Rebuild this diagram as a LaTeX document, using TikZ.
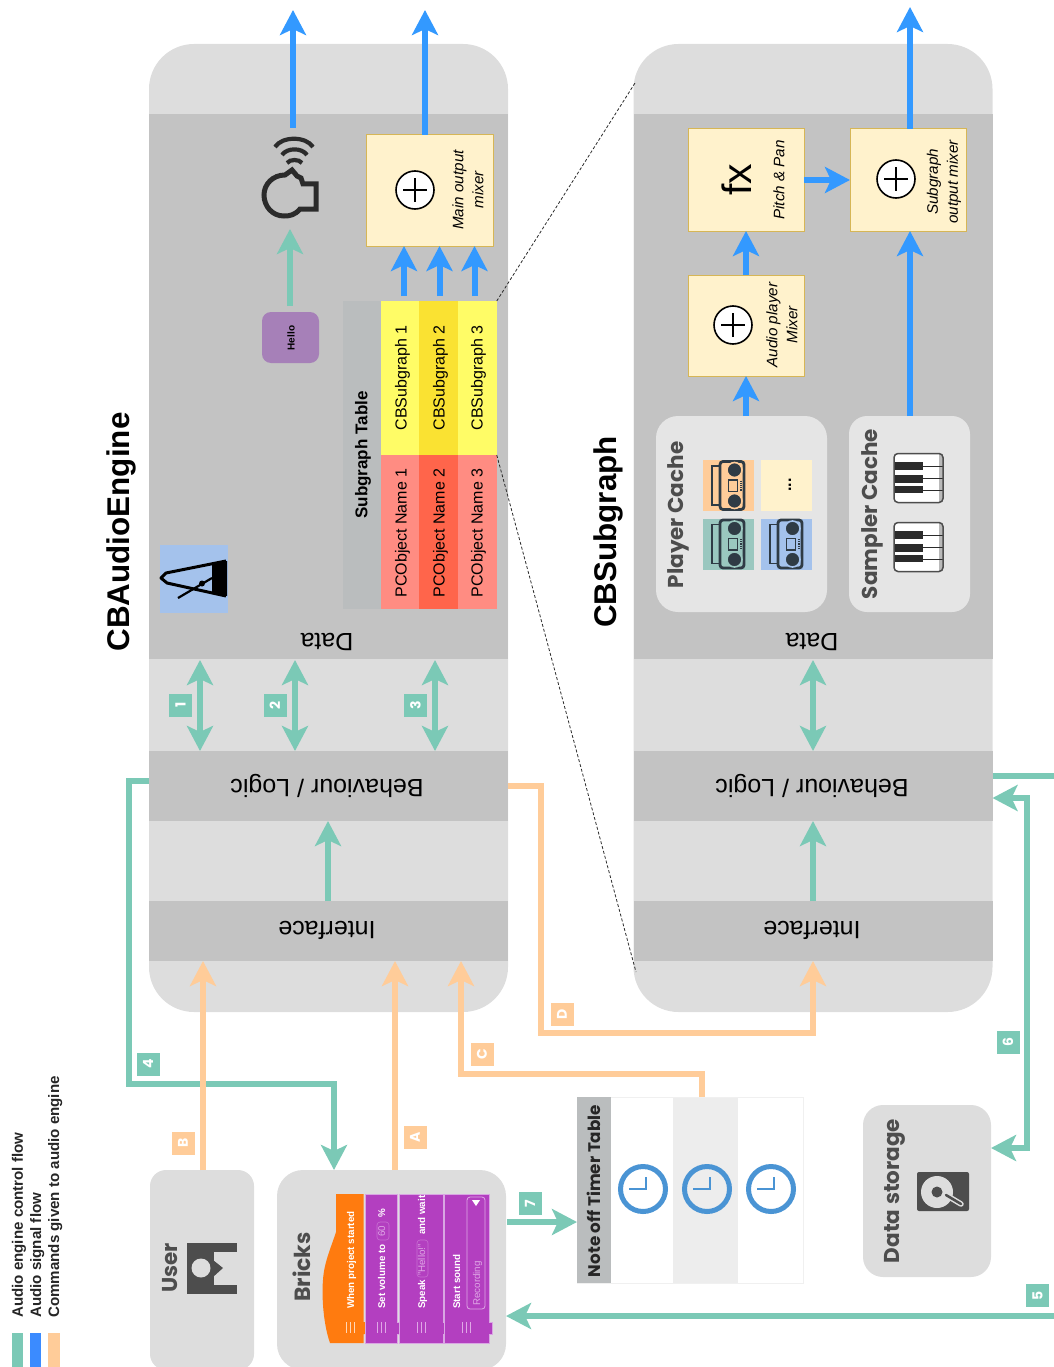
\documentclass[tikz,border=0pt]{standalone}
\usepackage{fontspec}
\setmainfont{Liberation Sans}
\newfontfamily\headfont{Poppins}
\usetikzlibrary{arrows.meta}
\definecolor{flowteal}{HTML}{7BC9B6}
\definecolor{flowblue}{HTML}{3399FF}
\definecolor{legendblue}{HTML}{3B8BFF}
\definecolor{floworange}{HTML}{FFCC99}
\definecolor{bandlight}{HTML}{DDDDDD}
\definecolor{banddark}{HTML}{C3C3C3}
\definecolor{cachelight}{HTML}{E5E5E5}
\definecolor{creamfill}{HTML}{FFF2CC}
\definecolor{creamline}{HTML}{D6B656}
\definecolor{tableheadfill}{HTML}{BABDBE}
\definecolor{yellowa}{HTML}{FFFC66}
\definecolor{yellowb}{HTML}{FAE232}
\definecolor{reda}{HTML}{FF8C82}
\definecolor{redb}{HTML}{FF654B}
\definecolor{icondark}{HTML}{4D4D4D}
\definecolor{iconink}{HTML}{2B2B2B}
\definecolor{boomink}{HTML}{2F3B45}
\definecolor{tintteal}{HTML}{9AC7BF}
\definecolor{tintblue}{HTML}{A4C2EC}
\definecolor{hellopurple}{HTML}{A680B8}
\definecolor{clockblue}{HTML}{4A94D4}
\definecolor{brickpurple}{HTML}{B33FC0}
\definecolor{brickedge}{HTML}{D9A5E3}
\definecolor{brickorange}{HTML}{FF7B0F}
\definecolor{bricksoft}{HTML}{DFA8E6}
\newcommand{\fsize}[1]{\fontsize{#1}{#1}\selectfont}
\newcommand{\boomboxicon}[3]{%
\begin{scope}[shift={(#1,#2)}]
\draw[boomink,line width=1.8pt] (-16.5,-19.5) rectangle (-8.5,19.5);
\draw[boomink,line width=2.8pt,rounded corners=3pt] (-8.5,-24) rectangle (15.5,24);
\filldraw[fill=boomink,draw=#3,line width=1.6pt] (6,-15.5) circle (7.5pt);
\filldraw[fill=boomink,draw=#3,line width=1.6pt] (6,15.5) circle (7.5pt);
\draw[boomink,line width=1.6pt] (0,-5.5) rectangle (9,6);
\draw[boomink,line width=1.2pt,dash pattern=on 1.2pt off 1pt] (12.5,-5) -- (12.5,5);
\end{scope}}
\newcommand{\pianoicon}[2]{%
\begin{scope}[shift={(#1,#2)}]
\fill[white,rounded corners=4pt] (-24.5,-24.5) rectangle (24.5,24.5);
\fill[gray!55] (20,-24) rectangle (24,24);
\draw[iconink,line width=1pt] (4,-12) -- (24,-12);
\draw[iconink,line width=1pt] (4,0) -- (24,0);
\draw[iconink,line width=1pt] (4,12) -- (24,12);
\fill[iconink] (-24,-16) rectangle (4.5,-8);
\fill[iconink] (-24,-3) rectangle (4.5,5);
\fill[iconink] (-24,8) rectangle (4.5,15);
\draw[icondark,line width=1.5pt,rounded corners=4pt] (-24.5,-24.5) rectangle (24.5,24.5);
\end{scope}}
\newcommand{\brickblock}[2]{%
\filldraw[brickfill] (#1,1194) -- (#2,1194) -- (#2,1322) -- ++(3,0) -- ++(0,12) -- ++(-3,0) -- (#2,1343) -- (#1,1343) -- cycle;
\draw[bricksoft,line width=.7pt] ({#1+(#2-#1)/2-4},1322) -- ++(0,11);
\draw[bricksoft,line width=.7pt] ({#1+(#2-#1)/2},1322) -- ++(0,11);
\draw[bricksoft,line width=.7pt] ({#1+(#2-#1)/2+4},1322) -- ++(0,11);}
\tikzset{
  plainbox/.style={inner sep=0pt,outer sep=0pt},
  enginebox/.style={plainbox,fill=bandlight,rounded corners=45pt,minimum width=359pt,minimum height=968pt},
  darkband/.style={plainbox,fill=banddark,minimum width=359pt},
  bandlabel/.style={font=\fsize{25},rotate=180},
  sidebox/.style={plainbox,fill=bandlight},
  cachebox/.style={plainbox,fill=cachelight},
  mixerbox/.style={plainbox,fill=creamfill,draw=creamline,line width=1pt},
  sumdot/.style={circle,plainbox,fill=white,draw=black,line width=1.6pt,minimum size=38pt,
    path picture={\draw[black,line width=1.2pt] ([xshift=-12pt]path picture bounding box.center) -- ([xshift=12pt]path picture bounding box.center);
      \draw[black,line width=1.2pt] ([yshift=-12pt]path picture bounding box.center) -- ([yshift=12pt]path picture bounding box.center);}},
  mixertext/.style={font=\fontsize{15.2}{20}\selectfont\itshape,rotate=90,align=center},
  titletext/.style={font=\fsize{31.4}\bfseries,rotate=90},
  headtext/.style={font=\headfont\fsize{21.5}\bfseries,rotate=90,text=icondark},
  tablecell/.style={plainbox,minimum width=38.5pt,minimum height=154pt},
  celltext/.style={font=\fsize{16},rotate=90},
  tablehead/.style={plainbox,fill=tableheadfill},
  tagbox/.style={plainbox,minimum size=23pt,text=white,font=\headfont\fsize{14}\bfseries,rotate=90},
  tagteal/.style={tagbox,fill=flowteal},
  tagorange/.style={tagbox,fill=floworange},
  control/.style={draw=flowteal,line width=6pt},
  signal/.style={draw=flowblue,line width=6pt},
  command/.style={draw=floworange,line width=6pt},
  zoomline/.style={line width=.8pt,dash pattern=on 3pt off 2pt,draw=iconink},
  clockface/.style={circle,plainbox,draw=clockblue,line width=5pt,minimum size=45pt},
  clockhand/.style={draw=clockblue,line width=1.8pt},
  legendtext/.style={font=\fsize{15.1}\bfseries,rotate=90,anchor=base west,inner sep=0pt,text=black!85},
  brickfill/.style={fill=brickpurple,draw=brickedge,line width=.7pt},
  bricktext/.style={font=\fsize{9.8}\bfseries,rotate=90,anchor=base west,inner sep=0pt,text=white},
  bricksofttext/.style={font=\fsize{9.8},rotate=90,anchor=base west,inner sep=0pt,text=bricksoft},
  softfield/.style={draw=bricksoft!45!brickpurple,line width=.6pt,rounded corners=3pt},
}
\begin{document}
\begin{tikzpicture}[x=1pt,y=-1pt,>={Stealth[length=25pt,width=26pt,inset=6pt]}]
\useasboundingbox (0,0) rectangle (1054,1367);

\fill[flowteal] (12,1333) rectangle (23,1367);
\fill[legendblue] (30,1333) rectangle (41,1367);
\fill[floworange] (48,1333) rectangle (59.5,1367);
\node[legendtext] (legendcontrol) at (23,1318) {Audio engine control flow};
\node[legendtext] (legendsignal) at (41,1318) {Audio signal flow};
\node[legendtext] (legendcommand) at (59,1318) {Commands given to audio engine};

\node[enginebox] (engine) at (328.5,528) {};
\node[darkband,minimum height=545pt] (enginedata) at (328.5,386.5) {};
\node[darkband,minimum height=70pt] (enginelogic) at (328.5,786) {};
\node[darkband,minimum height=60pt] (engineiface) at (328.5,931) {};
\node[bandlabel] (enginedatatext) at (327,642) {Data};
\node[bandlabel] (enginelogictext) at (327,786) {Behaviour / Logic};
\node[bandlabel] (engineifacetext) at (327,930) {Interface};
\node[titletext] (enginetitle) at (121,532) {CBAudioEngine};

\node[enginebox] (subgraph) at (813,528) {};
\node[darkband,minimum height=545pt] (subgraphdata) at (813,386.5) {};
\node[darkband,minimum height=70pt] (subgraphlogic) at (813,786) {};
\node[darkband,minimum height=60pt] (subgraphiface) at (813,931) {};
\node[bandlabel] (subgraphdatatext) at (812,642) {Data};
\node[bandlabel] (subgraphlogictext) at (812,786) {Behaviour / Logic};
\node[bandlabel] (subgraphifacetext) at (812,930) {Interface};
\node[titletext] (subgraphtitle) at (608,532) {CBSubgraph};

\node[tablehead,minimum width=39pt,minimum height=308pt] (tablehead) at (362,455) {};
\node[tablecell,fill=yellowa] (subgrapha) at (400,378) {};
\node[tablecell,fill=yellowb] (subgraphb) at (438.5,378) {};
\node[tablecell,fill=yellowa] (subgraphc) at (477.5,378) {};
\node[tablecell,fill=reda] (namea) at (400,532) {};
\node[tablecell,fill=redb] (nameb) at (438.5,532) {};
\node[tablecell,fill=reda] (namec) at (477.5,532) {};
\node[font=\fsize{17}\bfseries,rotate=90] (tabletitle) at (363,455) {Subgraph Table};
\node[celltext] (subgraphatext) at (402.5,378) {CBSubgraph 1};
\node[celltext] (subgraphbtext) at (440.5,378) {CBSubgraph 2};
\node[celltext] (subgraphctext) at (478.5,378) {CBSubgraph 3};
\node[celltext] (nameatext) at (402.5,533) {PCObject Name 1};
\node[celltext] (namebtext) at (440.5,533) {PCObject Name 2};
\node[celltext] (namectext) at (478.5,533) {PCObject Name 3};

\node[mixerbox,minimum width=127pt,minimum height=111pt] (mainmixer) at (429.5,190.5) {};
\node[sumdot] (mainsum) at (415,190) {};
\node[mixertext] (mainmixertext) at (468,190) {Main output\\mixer};

\node[plainbox,fill=tintblue,minimum size=68pt] (metronome) at (194,579) {};
\draw[black,line width=3pt,line join=round] (226,561) -- (166,573) -- (161,578) -- (167,583) -- (226,596);
\fill[black] (212,564) -- (227,561) -- (227,596) -- (212,592) -- cycle;
\draw[black,line width=2.2pt] (178,598) -- (212,578);
\fill[black] (202,583.5) circle (3pt);

\node[plainbox,fill=hellopurple,rounded corners=9pt,minimum width=57pt,minimum height=51pt] (hello) at (290.5,337.5) {};
\node[font=\fsize{10}\bfseries,rotate=90] (hellotext) at (291,338) {Hello};

\draw[iconink,line width=5pt,line join=miter] (316,209) -- (300,209) .. controls (295,215) and (290,216) .. (284,216) .. controls (272,216) and (264,206) .. (264,195) .. controls (264,184) and (273,175) .. (285,175) -- (292,170) -- (297,176) -- (301,178) -- (303,184) -- (316,184) -- cycle;
\draw[iconink,line width=4.2pt] (275,147) .. controls (282,136) and (306,136) .. (313,147);
\draw[iconink,line width=4.2pt] (282,155) .. controls (287,147.5) and (302,147.5) .. (307,155);
\draw[iconink,line width=4.2pt] (287,163) .. controls (290,159) and (299,159) .. (302,163);

\node[mixerbox,minimum width=116pt,minimum height=102pt] (fxbox) at (746,180) {};
\node[font=\fsize{41},rotate=90] (fxtext) at (737,180) {fx};
\node[mixertext] (fxlabel) at (779,180) {Pitch \& Pan};
\node[mixerbox,minimum width=116pt,minimum height=101pt] (playermixer) at (746,325.5) {};
\node[sumdot] (playersum) at (733,325) {};
\node[mixertext] (playermixertext) at (782,325) {Audio player\\Mixer};
\node[mixerbox,minimum width=116pt,minimum height=102pt] (outmixer) at (908,180) {};
\node[sumdot] (outsum) at (896,179) {};
\node[mixertext] (outmixertext) at (944,182) {Subgraph\\output mixer};

\node[cachebox,rounded corners=22pt,minimum width=171pt,minimum height=196pt] (playercache) at (741.5,514) {};
\node[headtext] (playercachetext) at (678,515) {Player Cache};
\node[plainbox,fill=floworange,minimum size=51pt] (playera) at (728.5,485.5) {};
\node[plainbox,fill=creamfill,minimum size=51pt] (playerb) at (786.5,485.5) {};
\node[plainbox,fill=tintteal,minimum size=51pt] (playerc) at (728.5,544) {};
\node[plainbox,fill=tintblue,minimum size=51pt] (playerd) at (786.5,544) {};
\boomboxicon{728.5}{485.5}{floworange}
\boomboxicon{728.5}{544}{tintteal}
\boomboxicon{786.5}{544}{tintblue}
\node[font=\fsize{16}\bfseries,rotate=90] (playerbtext) at (790,485) {...};

\node[cachebox,rounded corners=18pt,minimum width=121pt,minimum height=196pt] (samplercache) at (909.5,514) {};
\node[headtext] (samplercachetext) at (872,514) {Sampler Cache};
\pianoicon{918.5}{478}
\pianoicon{918.5}{547}

\node[sidebox,rounded corners=16pt,minimum width=104pt,minimum height=200pt] (user) at (202,1270) {};
\node[headtext] (usertext) at (170,1268) {User};
\fill[icondark] (187,1243) rectangle (237,1294);
\fill[bandlight] (213.5,1252) rectangle (238,1285);
\fill[icondark] (213,1260) -- (223,1268) -- (213,1277) -- cycle;
\fill[bandlight] (201,1268) circle (9.5pt);

\node[sidebox,rounded corners=26pt,minimum width=229pt,minimum height=200pt] (bricks) at (391.5,1270) {};
\node[headtext,font=\headfont\fsize{22}\bfseries] (brickstext) at (302,1267) {Bricks};
\fill[brickorange] (336,1194) -- (363.5,1194) -- (363.5,1322) -- ++(3,0) -- ++(0,12) -- ++(-3,0) -- (363.5,1343) -- (330,1343) .. controls (322,1320) and (322,1290) .. (323,1280) .. controls (324,1262) and (332,1245) .. (336,1232) -- cycle;
\draw[white!70!brickorange,line width=.7pt] (346,1322) -- ++(0,11);
\draw[white!70!brickorange,line width=.7pt] (350,1322) -- ++(0,11);
\draw[white!70!brickorange,line width=.7pt] (354,1322) -- ++(0,11);
\brickblock{365}{397}
\brickblock{399}{443}
\brickblock{444.5}{489}
\node[bricktext] (hatblock) at (354,1309) {When project started};
\node[bricktext] (volumeblock) at (385,1309) {Set volume to};
\draw[softfield] (377,1222) rectangle (389,1240);
\node[bricksofttext] (volumevalue) at (385,1237) {60};
\node[bricktext] (volumeunit) at (385,1218) {\%};
\node[bricktext] (speakblock) at (425,1309) {Speak};
\draw[softfield] (417,1240) rectangle (428,1277);
\node[bricksofttext] (speakvalue) at (425,1276) {"Hello!"};
\node[bricktext] (speaktail) at (425,1235) {and wait};
\node[bricktext] (soundblock) at (460,1309) {Start sound};
\draw[bricksoft,line width=.8pt,rounded corners=3pt] (467,1197) rectangle (485,1309);
\node[bricksofttext] (soundvalue) at (480,1306) {Recording};
\fill[white] (472,1200) -- (480,1200) -- (476,1206) -- cycle;

\node[plainbox,draw=black!6,line width=1pt,fill=white,minimum width=226pt,minimum height=186pt] (timertable) at (690,1190) {};
\node[plainbox,fill=tableheadfill,minimum width=33.5pt,minimum height=186pt] (timerhead) at (594,1190) {};
\node[plainbox,fill=black!7,minimum width=65pt,minimum height=185pt] (timerrow) at (705.5,1190) {};
\node[headtext,font=\headfont\fsize{16.8}\bfseries,text=black!85] (timertext) at (594,1191) {Note off Timer Table};
\node[clockface] (clocka) at (643,1189) {};
\node[clockface] (clockb) at (707,1189) {};
\node[clockface] (clockc) at (771,1189) {};
\draw[clockhand] (629,1189) -- (646,1189) -- (646,1177);
\draw[clockhand] (693,1189) -- (710,1189) -- (710,1177);
\draw[clockhand] (757,1189) -- (774,1189) -- (774,1177);

\node[sidebox,rounded corners=20pt,minimum width=128pt,minimum height=172pt] (storage) at (927,1191) {};
\node[headtext] (storagetext) at (895,1191) {Data storage};
\fill[icondark,rounded corners=2pt] (917,1172) rectangle (969,1211);
\fill[bandlight] (937,1192) circle (16pt);
\fill[icondark] (937,1192) circle (5.5pt);
\draw[bandlight,line width=5.5pt,line cap=round] (946,1195) -- (961,1204);
\draw[icondark,line width=2.5pt,line cap=round] (946,1195) -- (961,1204);

\coordinate (speakerout) at (293,10);
\coordinate (speakerfoot) at (293,128);
\coordinate (mainout) at (425,10);
\coordinate (tapa) at (404,296);
\coordinate (tapb) at (439.5,296);
\coordinate (tapc) at (474.5,296);
\coordinate (outtop) at (910,7);
\coordinate (playertap) at (746,416);
\coordinate (fxtap) at (746,275);
\coordinate (fxside) at (804,180);
\coordinate (samplertap) at (910,416);
\coordinate (hellotap) at (290,306);
\coordinate (speakerin) at (290,229);
\coordinate (linka) at (200,660);
\coordinate (linkb) at (295,660);
\coordinate (linkc) at (435,660);
\coordinate (linkd) at (813,660);
\coordinate (risea) at (328,901);
\coordinate (riseb) at (813,901);
\coordinate (logicexit) at (129,781);
\coordinate (logicturn) at (129,1084);
\coordinate (bricksturn) at (334,1084);
\coordinate (rightexit) at (1054,776);
\coordinate (rightenter) at (1054,1316);
\coordinate (storagetop) at (1027,798);
\coordinate (storagefoot) at (1027,1148);
\coordinate (noteout) at (507,1222);
\coordinate (inputb) at (203,1170);
\coordinate (inputa) at (395,1170);
\coordinate (timerup) at (702,1097);
\coordinate (timerturn) at (702,1074);
\coordinate (timerleft) at (461,1074);
\coordinate (sidedown) at (541,786);
\coordinate (sideturn) at (541,1033);
\coordinate (sideacross) at (813,1033);

\draw[zoomline] (subgraphc.north east) -- (635,83);
\draw[zoomline] (namec.north east) -- (636,972);

\draw[control,->] (logicexit -| engine.west) -- (logicexit) -- (logicturn) -- (bricksturn) -- (bricksturn |- bricks.north);
\draw[control,<->] (linka) -- (linka |- enginelogic.north);
\draw[control,<->] (linkb) -- (linkb |- enginelogic.north);
\draw[control,<->] (linkc) -- (linkc |- enginelogic.north);
\draw[control,<->] (linkd) -- (linkd |- subgraphlogic.north);
\draw[control,->] (risea) -- (risea |- enginelogic.south);
\draw[control,->] (riseb) -- (riseb |- subgraphlogic.south);
\draw[control,->] (hellotap) -- (speakerin);
\draw[control] (rightexit -| subgraph.east) -- (rightexit);
\draw[control,->] (rightenter) -- (rightenter -| bricks.east);
\draw[control,<->] (storagetop -| subgraph.east) -- (storagetop) -- (storagefoot) -- (storagefoot -| storage.east);
\draw[control,->] (noteout) -- (noteout -| timertable.west);

\draw[signal,->] (speakerfoot) -- (speakerout);
\draw[signal,->] (mainout |- mainmixer.north) -- (mainout);
\draw[signal,->] (tapa) -- (tapa |- mainmixer.south);
\draw[signal,->] (tapb) -- (tapb |- mainmixer.south);
\draw[signal,->] (tapc) -- (tapc |- mainmixer.south);
\draw[signal,->] (outtop |- outmixer.north) -- (outtop);
\draw[signal,->] (playertap) -- (playertap |- playermixer.south);
\draw[signal,->] (fxtap) -- (fxtap |- fxbox.south);
\draw[signal,->] (fxside) -- (fxside -| outmixer.west);
\draw[signal,->] (samplertap) -- (samplertap |- outmixer.south);

\draw[command,->] (inputb) -- (inputb |- engineiface.south);
\draw[command,->] (inputa) -- (inputa |- engineiface.south);
\draw[command,->] (timerup) -- (timerturn) -- (timerleft) -- (timerleft |- engineiface.south);
\draw[command,->] (enginelogic.east) -- (sidedown) -- (sideturn) -- (sideacross) -- (sideacross |- subgraphiface.south);

\node[tagteal] (tagone) at (180.5,705) {1};
\node[tagteal] (tagtwo) at (275,705) {2};
\node[tagteal] (tagthree) at (415.5,705) {3};
\node[tagteal] (tagfour) at (148,1064) {4};
\node[tagteal] (tagfive) at (1037.5,1295.5) {5};
\node[tagteal] (tagsix) at (1008,1042) {6};
\node[tagteal] (tagseven) at (530,1203.5) {7};
\node[tagorange] (taga) at (415,1137) {A};
\node[tagorange] (tagb) at (183,1143) {B};
\node[tagorange] (tagc) at (482,1054) {C};
\node[tagorange] (tagd) at (562,1014) {D};
\end{tikzpicture}
\end{document}
